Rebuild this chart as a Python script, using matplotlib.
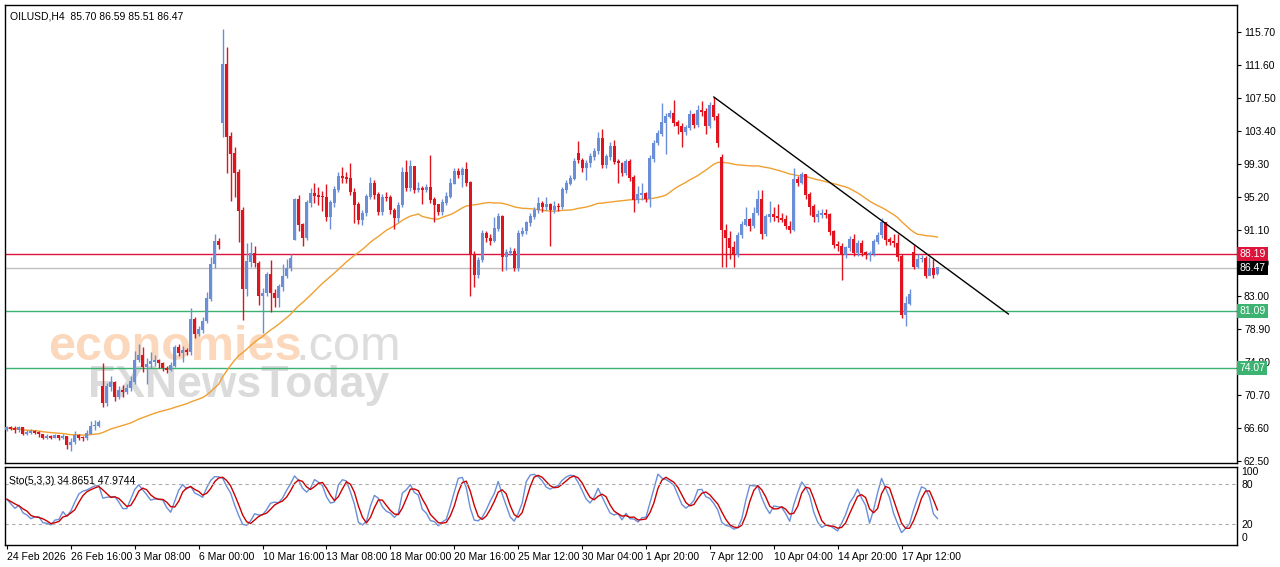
import matplotlib.pyplot as plt
import numpy as np
import pandas as pd

plt.rcParams["font.family"] = ["Liberation Sans", "DejaVu Sans"]

# H4 OILUSD candles
closes = [
    66.6, 66.5, 66.3, 66.6, 65.9, 66.0, 66.2, 66.0, 65.8, 65.4,
    65.5, 65.4, 65.6, 65.3, 65.5, 64.5, 64.8, 65.7, 65.4, 65.3,
    65.9, 66.8, 66.9, 67.2, 69.7, 71.7, 72.2, 70.4, 71.2, 71.0,
    71.5, 72.3, 75.0, 75.6, 74.2, 74.5, 74.8, 75.0, 74.6, 74.0,
    73.8, 74.3, 76.6, 75.9, 76.2, 76.0, 80.0, 78.2, 78.8, 79.8,
    82.6, 86.9, 89.7, 89.3, 111.6, 102.7, 100.6, 98.2, 93.5, 83.8,
    87.2, 88.2, 87.0, 82.9, 83.3, 85.6, 83.3, 82.7, 84.1, 85.4,
    86.4, 87.6, 94.9, 91.8, 90.1, 94.5, 95.7, 95.4, 95.3, 95.2,
    92.8, 94.5, 96.1, 97.8, 97.6, 97.5, 95.8, 94.3, 92.4, 93.2,
    95.3, 96.9, 95.5, 93.4, 95.2, 95.1, 93.6, 92.6, 94.2, 98.2,
    96.3, 99.0, 96.1, 96.3, 96.1, 96.4, 94.9, 94.3, 93.4, 94.5,
    95.3, 96.9, 98.4, 98.0, 98.6, 97.0, 88.0, 85.6, 87.4, 90.7,
    90.1, 89.8, 91.3, 92.8, 87.8, 88.3, 88.5, 86.4, 90.7, 91.0,
    92.0, 92.8, 93.6, 94.4, 94.0, 94.3, 93.6, 94.1, 94.0, 96.1,
    96.9, 97.5, 99.6, 99.8, 98.8, 99.4, 100.2, 100.9, 102.5, 99.2,
    100.2, 101.5, 99.6, 99.4, 98.2, 99.6, 97.6, 94.9, 95.5, 95.6,
    95.0, 100.0, 101.9, 103.1, 104.4, 105.2, 105.6, 104.4, 104.0, 103.3,
    103.8, 105.4, 104.2, 106.0, 105.8, 104.0, 106.6, 105.2, 101.9, 91.1,
    90.1, 88.9, 88.0, 90.5, 91.8, 92.4, 91.6, 93.2, 94.9, 90.7,
    92.8, 93.0, 92.8, 92.6, 92.4, 91.6, 91.2, 97.4, 97.0, 98.0,
    95.5, 94.0, 92.8, 93.0, 93.2, 93.0, 90.9, 89.3, 89.1, 88.0,
    88.9, 89.9, 88.3, 89.5, 88.3, 88.1, 88.2, 89.7, 90.5, 92.0,
    89.9, 89.7, 89.5, 87.8, 80.6, 82.0, 83.1, 86.6, 87.5, 87.6,
    85.4, 86.3, 85.6, 86.47,
]
highs = [
    66.9, 66.9, 66.8, 66.9, 66.7, 66.3, 66.5, 66.4, 66.2, 65.9,
    65.8, 65.7, 65.9, 65.7, 65.8, 65.6, 65.3, 66.2, 65.9, 65.6,
    66.3, 67.5, 67.6, 67.6, 74.7, 72.2, 73.0, 72.4, 71.8, 71.9,
    72.0, 73.0, 76.2, 77.0, 76.6, 75.3, 76.0, 75.6, 75.2, 74.8,
    74.3, 74.8, 76.9, 77.0, 76.7, 76.5, 81.5, 80.3, 79.2, 80.4,
    83.4, 87.8, 90.6, 90.1, 116.1, 113.9, 103.3, 101.5, 98.7, 94.0,
    89.5, 89.6, 89.2, 87.3, 84.0, 85.9, 87.4, 83.8, 84.5, 86.9,
    87.6, 88.2, 95.1, 95.5, 92.0, 94.9, 96.3, 97.0, 96.5, 96.0,
    96.9, 94.9, 96.6, 98.3, 99.0, 98.4, 99.5, 96.3, 94.6, 93.6,
    95.6, 97.7, 97.3, 95.8, 95.6, 95.8, 95.5, 93.9, 94.6, 99.0,
    99.8, 99.8, 98.8, 97.1, 96.6, 96.9, 100.4, 95.3, 94.3, 95.0,
    95.8, 97.6, 98.8, 98.8, 99.0, 99.6, 97.2, 88.6, 87.8, 91.2,
    91.0, 90.6, 92.8, 93.2, 93.0, 88.8, 89.0, 88.9, 91.1, 91.5,
    92.3, 93.2, 94.0, 95.3, 94.8, 95.2, 94.5, 94.7, 94.5, 96.5,
    97.3, 98.0, 100.1, 102.2, 100.1, 99.8, 100.7, 101.3, 103.3, 103.7,
    100.6, 102.0, 102.3, 99.9, 99.6, 100.0, 99.9, 98.0, 96.6, 97.0,
    95.9, 100.4, 102.3, 103.5, 106.9, 105.7, 106.0, 107.3, 104.8, 104.4,
    104.2, 106.0, 105.7, 106.7, 107.2, 106.3, 107.0, 107.7, 105.6, 100.6,
    91.9, 91.0, 89.8, 90.9, 92.3, 94.0, 92.6, 94.0, 96.1, 96.1,
    93.1, 94.7, 94.0, 94.4, 93.2, 93.0, 92.3, 98.8, 97.9, 98.4,
    98.1, 95.9, 94.4, 93.6, 93.7, 93.8, 93.2, 91.2, 89.8, 89.5,
    89.2, 90.4, 90.7, 89.9, 89.9, 88.6, 88.6, 90.0, 90.9, 92.6,
    92.2, 90.3, 90.6, 90.7, 88.2, 82.9, 83.8, 89.3, 88.2, 88.0,
    87.9, 87.8, 87.5, 86.59,
]
lows = [
    66.2, 66.3, 66.0, 66.1, 65.7, 65.7, 65.8, 65.8, 65.5, 65.2,
    65.2, 65.2, 65.3, 65.1, 65.2, 64.0, 63.8, 64.6, 65.1, 65.0,
    65.1, 65.8, 66.3, 66.7, 69.2, 69.3, 71.2, 69.9, 70.2, 70.4,
    70.8, 71.2, 72.0, 74.8, 73.5, 72.0, 74.0, 74.3, 74.0, 73.6,
    73.4, 73.6, 74.2, 75.5, 74.8, 75.6, 75.7, 77.8, 78.0, 78.4,
    79.6, 82.3, 86.4, 88.8, 102.7, 98.2, 94.7, 95.2, 89.7, 80.0,
    82.9, 86.6, 86.6, 81.8, 78.4, 82.9, 81.0, 81.6, 81.6, 83.6,
    85.2, 86.1, 89.9, 91.0, 89.1, 89.9, 94.0, 94.5, 94.2, 93.5,
    92.3, 91.3, 94.0, 95.8, 97.0, 97.0, 95.5, 92.0, 91.9, 91.8,
    92.9, 95.0, 95.0, 93.0, 93.0, 94.7, 93.1, 91.3, 92.2, 94.0,
    96.0, 96.0, 95.7, 95.9, 94.4, 95.8, 94.5, 92.2, 93.0, 93.0,
    94.2, 95.1, 96.8, 97.6, 96.5, 96.6, 82.9, 84.1, 85.2, 87.2,
    89.6, 89.3, 89.6, 91.0, 86.0, 86.2, 88.0, 86.0, 86.0, 90.4,
    90.7, 91.6, 92.5, 93.2, 93.4, 93.6, 89.1, 93.3, 93.5, 93.8,
    95.7, 96.7, 97.3, 99.5, 98.4, 97.4, 99.0, 99.8, 100.6, 98.8,
    98.8, 99.8, 99.3, 97.0, 97.9, 98.0, 97.2, 93.4, 94.5, 94.9,
    94.6, 94.0, 99.6, 101.7, 102.8, 100.6, 105.0, 104.0, 103.0, 101.5,
    102.9, 103.5, 103.8, 103.9, 105.3, 103.1, 103.8, 104.8, 101.4, 86.6,
    86.6, 87.5, 86.5, 87.8, 90.2, 91.6, 91.0, 91.4, 93.0, 90.0,
    90.4, 92.1, 92.3, 92.2, 92.1, 91.3, 90.8, 91.0, 96.6, 96.8,
    95.0, 93.0, 92.1, 92.2, 92.6, 92.6, 90.5, 88.9, 88.6, 84.9,
    87.7, 88.6, 87.9, 87.9, 87.9, 87.6, 87.3, 87.9, 89.4, 90.2,
    89.3, 89.3, 89.0, 87.3, 80.2, 79.2, 81.8, 86.3, 86.4, 87.2,
    85.2, 85.9, 85.2, 85.51,
]
first_open = 66.4
gap_opens = {24: 71.7, 54: 104.4, 72: 89.9, 143: 100.6, 179: 100.1, 227: 88.3, 233: 85.70}

levels = [88.19, 81.09, 74.07]
level_colors = ["#dc143c", "#3cb371", "#3cb371"]
last_price = 86.47
trend_start = (177, 107.64)
trend_end = (250.75, 80.73)

price_ticks = [115.70, 111.60, 107.50, 103.40, 99.30, 95.20, 91.10, 87.10, 83.00, 78.90, 74.80, 70.70, 66.60, 62.50]
date_labels = ["24 Feb 2026", "26 Feb 16:00", "3 Mar 08:00", "6 Mar 00:00", "10 Mar 16:00",
               "13 Mar 08:00", "18 Mar 00:00", "20 Mar 16:00", "25 Mar 12:00", "30 Mar 04:00",
               "1 Apr 20:00", "7 Apr 12:00", "10 Apr 04:00", "14 Apr 20:00", "17 Apr 12:00"]

c = np.array(closes)
h = np.array(highs)
l = np.array(lows)
o = np.concatenate([[first_open], c[:-1]])
for k, v in gap_opens.items():
    o[k] = v
x = np.arange(len(c))

ma = pd.Series(c).rolling(50, min_periods=1).mean()

# stochastic 5,3,3
hh = pd.Series(h).rolling(5, min_periods=1).max()
ll = pd.Series(l).rolling(5, min_periods=1).min()
num = (pd.Series(c) - ll).rolling(3, min_periods=1).sum()
den = (hh - ll).rolling(3, min_periods=1).sum()
k_line = 100 * num / den
d_line = k_line.rolling(3, min_periods=1).mean()

up_col = "#6a8fd8"
dn_col = "#e0141e"

fig = plt.figure(figsize=(12.8, 5.67), dpi=100)
ax = fig.add_axes([5 / 1280, 1 - 463 / 567, 1232 / 1280, 458 / 567])
ax2 = fig.add_axes([5 / 1280, 1 - 545 / 567, 1232 / 1280, 78 / 567])

up = c >= o
cols = np.where(up, up_col, dn_col)
ax.vlines(x, l, h, colors=cols, linewidth=1, zorder=3)
ax.bar(x, np.abs(c - o) + 0.08, bottom=np.minimum(o, c), width=0.75, color=cols, zorder=4)
ax.plot(x, ma, color="#f0a030", linewidth=1, zorder=2)
ax.plot([trend_start[0], trend_end[0]], [trend_start[1], trend_end[1]], color="black", linewidth=1, zorder=5)

for lv, col in zip(levels, level_colors):
    ax.axhline(lv, color=col, linewidth=1, zorder=1)
ax.axhline(last_price, color="#c0c0c0", linewidth=1, zorder=1)

ax.set_xlim(-0.5, 308)
ax.set_ylim(62.25, 119.05)
ax.yaxis.tick_right()
ax.set_yticks(price_ticks)
ax.set_yticklabels([f"{t:.2f}" for t in price_ticks], fontsize=7.5)
ax.tick_params(axis="y", length=3, pad=2)
ax.set_xticks([])

for lv, col in zip(levels + [last_price], level_colors + ["black"]):
    ax.text(1.002, lv, f"{lv:.2f}", transform=ax.get_yaxis_transform(), fontsize=7.5,
            color="white", va="center", ha="left",
            bbox=dict(boxstyle="square,pad=0.2", fc=col, ec="none"), zorder=10)

ax.text(0.004, 0.985, "OILUSD,H4  85.70 86.59 85.51 86.47", transform=ax.transAxes,
        fontsize=7.5, va="top", ha="left")

# watermark, behind the candles
ax.text(48 / 1280, 1 - 347 / 567, "economies", transform=fig.transFigure, fontsize=35,
        fontweight="bold", color="#f9b27a", alpha=0.5, va="center", zorder=0.5)
ax.text(296 / 1280, 1 - 347 / 567, ".com", transform=fig.transFigure, fontsize=35,
        color="#aaaaaa", alpha=0.4, va="center", zorder=0.5)
ax.text(88 / 1280, 1 - 386 / 567, "FXNewsToday", transform=fig.transFigure, fontsize=32,
        fontweight="bold", color="#999999", alpha=0.35, va="center", zorder=0.5)

ax2.plot(x, k_line, color=up_col, linewidth=1)
ax2.plot(x, d_line, color="#cc0000", linewidth=1)
ax2.axhline(80, color="#aaaaaa", linestyle=(0, (3, 3)), linewidth=0.8)
ax2.axhline(20, color="#aaaaaa", linestyle=(0, (3, 3)), linewidth=0.8)
ax2.set_xlim(-0.5, 308)
ax2.set_ylim(-12, 106)
ax2.yaxis.tick_right()
ax2.set_yticks([100, 80, 20, 0])
ax2.set_yticklabels(["100", "80", "20", "0"], fontsize=7.5)
ax2.tick_params(axis="y", length=0, pad=3)
ax2.set_xticks(np.arange(len(date_labels)) * 16)
ax2.set_xticklabels(date_labels, fontsize=7.5, ha="left")
ax2.tick_params(axis="x", length=3, pad=2)
ax2.text(0.003, 0.88, "Sto(5,3,3) 34.8651 47.9744", transform=ax2.transAxes, fontsize=7.5, va="top")

for a in (ax, ax2):
    for s in a.spines.values():
        s.set_linewidth(1)

fig.savefig("out.png", dpi=100)
